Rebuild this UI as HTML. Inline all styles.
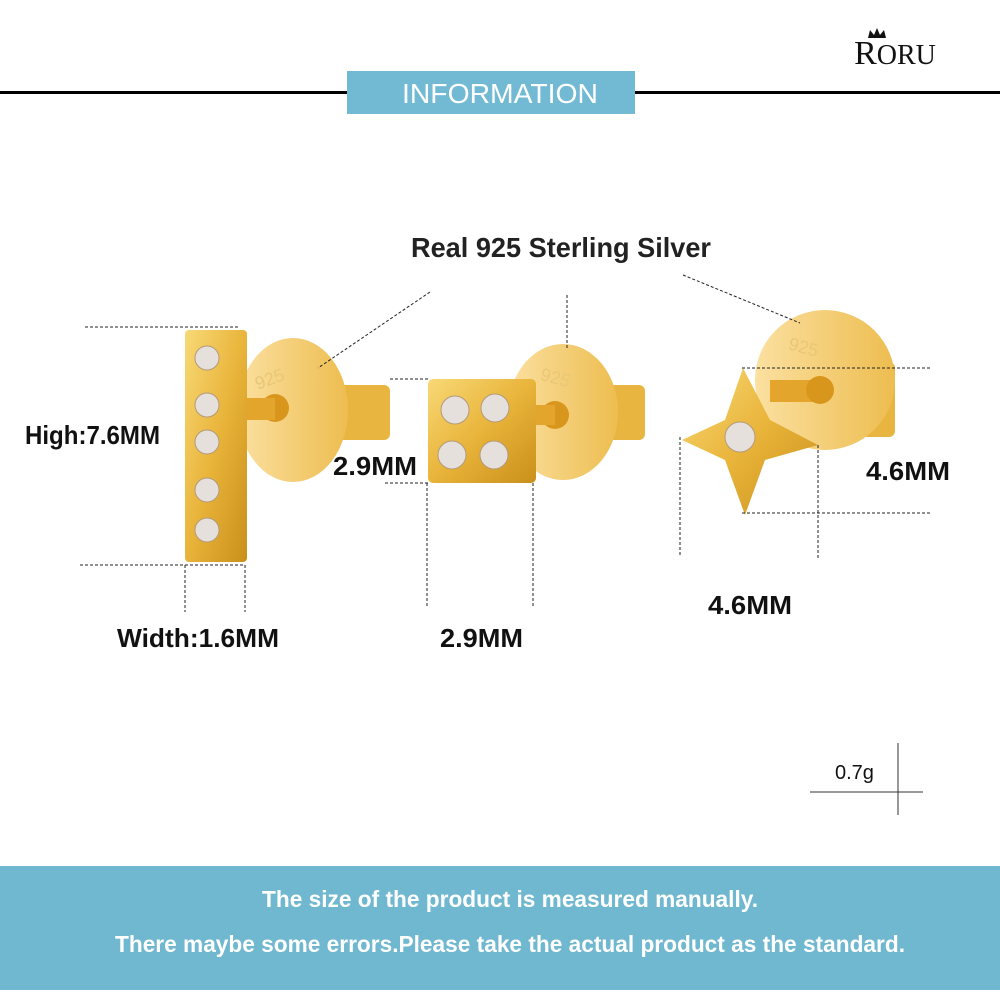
<!DOCTYPE html>
<html><head><style>
body{margin:0;background:#fff;width:1000px;height:1000px;overflow:hidden}
svg text{font-family:"Liberation Sans",sans-serif}
</style></head><body>
<svg width="1000" height="1000" viewBox="0 0 1000 1000">
<defs>
<linearGradient id="g" x1="0" y1="0" x2="1" y2="1"><stop offset="0" stop-color="#f8d977"/><stop offset="0.5" stop-color="#e9b43a"/><stop offset="1" stop-color="#c98f1a"/></linearGradient>
<linearGradient id="b" x1="0" y1="0" x2="1" y2="0"><stop offset="0" stop-color="#fbe0a0"/><stop offset="1" stop-color="#edbd50"/></linearGradient>
</defs>
<rect x="0" y="91" width="347" height="3" fill="#000"/>
<rect x="635" y="91" width="365" height="3" fill="#000"/>
<rect x="347" y="71" width="288" height="43" fill="#72bad3"/>
<text x="500" y="103" text-anchor="middle" font-size="28" fill="#fff" textLength="196" lengthAdjust="spacingAndGlyphs">INFORMATION</text>
<text x="895" y="64" text-anchor="middle" font-size="34" style="font-family:'Liberation Serif',serif" fill="#111">R<tspan font-size="28">ORU</tspan></text>
<path d="M868 38 l2 -8 4 5 3 -7 3 7 4 -5 2 8z" fill="#111"/>
<text x="561" y="257" text-anchor="middle" font-size="28" font-weight="bold" fill="#222" textLength="300" lengthAdjust="spacingAndGlyphs">Real 925 Sterling Silver</text>

<rect x="325" y="385" width="65" height="55" rx="6" fill="#e8b640"/>
<ellipse cx="293" cy="410" rx="55" ry="72" fill="url(#b)"/>
<text x="255" y="385" font-size="18" fill="#e8c878" transform="rotate(-20 270 380)">925</text>
<circle cx="275" cy="408" r="14" fill="#d9961c"/>
<rect x="220" y="398" width="55" height="22" fill="#e4a52c"/>
<rect x="185" y="330" width="62" height="232" rx="4" fill="url(#g)"/>
<g fill="#e5e0dc" stroke="#b39a7a"><circle cx="207" cy="358" r="12"/><circle cx="207" cy="405" r="12"/><circle cx="207" cy="442" r="12"/><circle cx="207" cy="490" r="12"/><circle cx="207" cy="530" r="12"/></g>

<rect x="600" y="385" width="45" height="55" rx="6" fill="#e8b640"/>
<ellipse cx="563" cy="412" rx="55" ry="68" fill="url(#b)"/>
<text x="540" y="385" font-size="18" fill="#e8c878" transform="rotate(15 560 380)">925</text>
<circle cx="555" cy="415" r="14" fill="#d9961c"/>
<rect x="510" y="405" width="45" height="20" fill="#e4a52c"/>
<rect x="428" y="379" width="108" height="104" rx="5" fill="url(#g)"/>
<g fill="#e5e0dc" stroke="#b39a7a"><circle cx="455" cy="410" r="14"/><circle cx="495" cy="408" r="14"/><circle cx="452" cy="455" r="14"/><circle cx="494" cy="455" r="14"/></g>

<rect x="855" y="362" width="40" height="75" rx="6" fill="#e8b640"/>
<ellipse cx="825" cy="380" rx="70" ry="70" fill="url(#b)"/>
<text x="788" y="355" font-size="18" fill="#e8c878" transform="rotate(15 810 350)">925</text>
<rect x="770" y="380" width="55" height="22" fill="#e4a52c"/>
<circle cx="820" cy="390" r="14" fill="#d9961c"/>
<path d="M743 368 L770 420 L818 445 L765 460 L745 515 L725 460 L682 440 L725 420 Z" fill="url(#g)"/>
<circle cx="740" cy="437" r="15" fill="#e5e0dc" stroke="#b39a7a"/>

<g stroke="#222" stroke-width="1" stroke-dasharray="3,2" fill="none">
<line x1="85" y1="327" x2="240" y2="327"/><line x1="80" y1="565" x2="245" y2="565"/>
<line x1="185" y1="565" x2="185" y2="612"/><line x1="245" y1="565" x2="245" y2="612"/>
<line x1="430" y1="292" x2="318" y2="368"/>
<line x1="567" y1="295" x2="567" y2="350"/>
<line x1="390" y1="379" x2="430" y2="379"/><line x1="385" y1="483" x2="430" y2="483"/>
<line x1="427" y1="483" x2="427" y2="608"/><line x1="533" y1="483" x2="533" y2="608"/>
<line x1="683" y1="275" x2="800" y2="323"/>
<line x1="742" y1="368" x2="932" y2="368"/><line x1="742" y1="513" x2="932" y2="513"/>
<line x1="680" y1="437" x2="680" y2="555"/><line x1="818" y1="445" x2="818" y2="560"/>
</g>
<g font-size="26" font-weight="bold" fill="#111">
<text x="25" y="444" textLength="135" lengthAdjust="spacingAndGlyphs">High:7.6MM</text>
<text x="333" y="475" textLength="84" lengthAdjust="spacingAndGlyphs">2.9MM</text>
<text x="866" y="480" textLength="84" lengthAdjust="spacingAndGlyphs">4.6MM</text>
<text x="117" y="647" textLength="162" lengthAdjust="spacingAndGlyphs">Width:1.6MM</text>
<text x="440" y="647" textLength="83" lengthAdjust="spacingAndGlyphs">2.9MM</text>
<text x="708" y="614" textLength="84" lengthAdjust="spacingAndGlyphs">4.6MM</text>
</g>
<text x="835" y="779" font-size="20" fill="#111">0.7g</text>
<line x1="898" y1="743" x2="898" y2="815" stroke="#333"/>
<line x1="810" y1="792" x2="923" y2="792" stroke="#333"/>

<rect x="0" y="866" width="1000" height="124" fill="#6fb8cf"/>
<text x="510" y="907" text-anchor="middle" font-size="23" font-weight="bold" fill="#fff" textLength="496" lengthAdjust="spacingAndGlyphs">The size of the product is measured manually.</text>
<text x="510" y="952" text-anchor="middle" font-size="23" font-weight="bold" fill="#fff" textLength="790" lengthAdjust="spacingAndGlyphs">There maybe some errors.Please take the actual product as the standard.</text>
</svg>
</body></html>
